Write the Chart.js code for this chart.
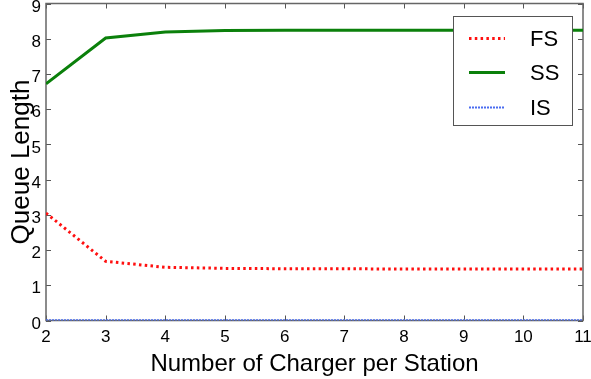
<!DOCTYPE html>
<html><head><meta charset="utf-8">
<script src="https://cdn.jsdelivr.net/npm/chart.js@4/dist/chart.umd.min.js"></script>
<style>html,body{margin:0;padding:0;background:#fff}#wrap{width:591px;height:379px}</style>
</head><body><div id="wrap"><canvas id="c" width="591" height="379"></canvas></div>
<script>
const chargers = [2, 3, 4, 5, 6, 7, 8, 9, 10, 11];
const fsValues = [3.05, 1.68, 1.51, 1.48, 1.47, 1.47, 1.46, 1.46, 1.46, 1.46];
const ssValues = [6.72, 8.02, 8.19, 8.23, 8.24, 8.24, 8.24, 8.24, 8.24, 8.24];
const isValues = [0.01, 0.01, 0.01, 0.01, 0.01, 0.01, 0.01, 0.01, 0.01, 0.01];
const seriesNames = ['FS', 'SS', 'IS'];
const yTicks = [0, 1, 2, 3, 4, 5, 6, 7, 8, 9];
const xTitle = 'Number of Charger per Station';
const yTitle = 'Queue Length';

const FONT = '"Liberation Sans", Arial, Helvetica, sans-serif';
const pts = v => chargers.map((x, i) => ({x, y: v[i]}));

const framePlugin = {
  id: 'frame',
  beforeDatasetsDraw(chart) {
    const {ctx, chartArea: a, scales} = chart;
    ctx.save();
    ctx.strokeStyle = '#555';
    ctx.lineWidth = 1;
    const L = 5;
    ctx.beginPath();
    chargers.forEach(v => {
      const px = Math.round(scales.x.getPixelForValue(v)) + 0.5;
      ctx.moveTo(px, a.bottom); ctx.lineTo(px, a.bottom - L);
      ctx.moveTo(px, a.top); ctx.lineTo(px, a.top + L);
    });
    yTicks.forEach(v => {
      const py = Math.round(scales.y.getPixelForValue(v)) + 0.5;
      ctx.moveTo(a.left, py); ctx.lineTo(a.left + L, py);
      ctx.moveTo(a.right, py); ctx.lineTo(a.right - L, py);
    });
    ctx.stroke();
    ctx.strokeStyle = '#666';
    ctx.lineWidth = 1.5;
    ctx.strokeRect(a.left, a.top, a.right - a.left, a.bottom - a.top);
    ctx.restore();
  },
  afterDatasetsDraw(chart) {
    const {ctx, chartArea: a} = chart;
    ctx.save();
    const bx = a.right - 130, by = a.top + 12.5, bw = 119, bh = 109;
    ctx.fillStyle = '#fff';
    ctx.fillRect(bx, by, bw, bh);
    ctx.strokeStyle = '#555';
    ctx.lineWidth = 1;
    ctx.strokeRect(bx + 0.5, by + 0.5, bw, bh);
    const rows = [by + 22.5, by + 56.5, by + 91.5];
    chart.data.datasets.forEach((ds, i) => {
      const y = rows[i];
      ctx.strokeStyle = ds.borderColor;
      ctx.lineWidth = ds.borderWidth;
      ctx.setLineDash(ds.borderDash || []);
      ctx.beginPath();
      ctx.moveTo(bx + 16, y); ctx.lineTo(bx + 52, y);
      ctx.stroke();
      ctx.setLineDash([]);
      ctx.fillStyle = '#000';
      ctx.font = '22px ' + FONT;
      ctx.textAlign = 'left';
      ctx.textBaseline = 'middle';
      ctx.fillText(ds.label, bx + 77, y + 1);
    });
    ctx.restore();
  }
};

new Chart(document.getElementById('c'), {
  type: 'line',
  data: {
    datasets: [
      {label: seriesNames[0], data: pts(fsValues), borderColor: '#ff1010', borderWidth: 3, borderDash: [2.5, 3.3], pointRadius: 0, fill: false},
      {label: seriesNames[1], data: pts(ssValues), borderColor: '#0b800b', borderWidth: 3, pointRadius: 0, fill: false},
      {label: seriesNames[2], data: pts(isValues), borderColor: '#4a6cf0', borderWidth: 2, borderDash: [2, 1], pointRadius: 0, fill: false}
    ]
  },
  options: {
    responsive: false,
    animation: false,
    layout: {padding: {top: 3.5, right: 8, left: 0, bottom: 0}},
    plugins: {legend: {display: false}, tooltip: {enabled: false}},
    scales: {
      x: {
        type: 'linear', min: 2, max: 11,
        afterBuildTicks: s => { s.ticks = chargers.map(v => ({value: v})); },
        afterFit: s => { s.height = 58.5; s.paddingLeft = 0; s.paddingRight = 0; },
        grid: {display: false, drawTicks: false},
        border: {display: false},
        ticks: {color: '#000', font: {size: 17, family: FONT}, padding: 7, maxRotation: 0, autoSkip: false},
        title: {display: true, text: xTitle, color: '#000', font: {size: 24, family: FONT}, padding: {top: 0, bottom: 0}}
      },
      y: {
        type: 'linear', min: 0, max: 9,
        afterBuildTicks: s => { s.ticks = yTicks.map(v => ({value: v})); },
        afterFit: s => { s.width = 46; s.paddingTop = 0; s.paddingBottom = 0; },
        grid: {display: false, drawTicks: false},
        border: {display: false},
        ticks: {color: '#000', font: {size: 17, family: FONT}, padding: 5, labelOffset: 3.5},
        title: {display: true, text: yTitle, color: '#000', font: {size: 26, family: FONT}, padding: {top: 6, bottom: 0}}
      }
    }
  },
  plugins: [framePlugin]
});
</script></body></html>
